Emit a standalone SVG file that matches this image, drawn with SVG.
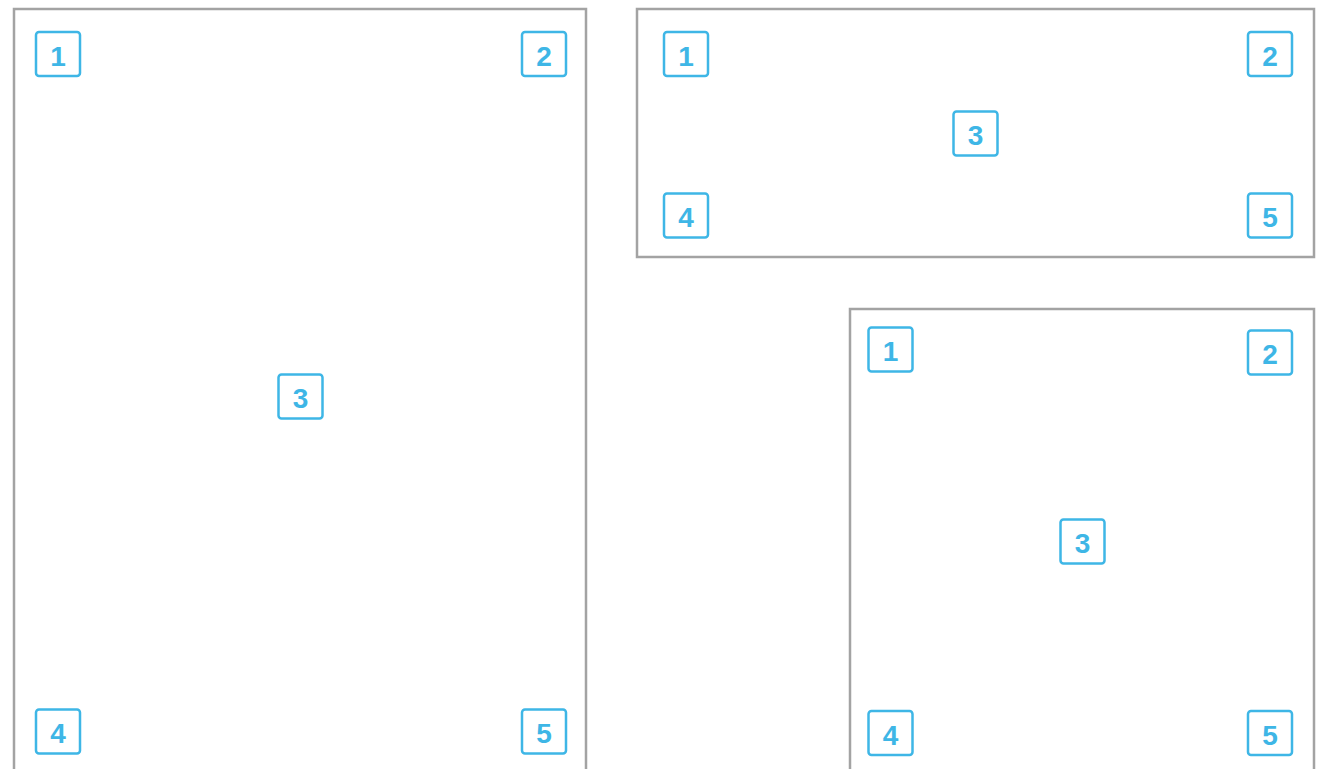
<svg xmlns="http://www.w3.org/2000/svg" width="1321" height="769" viewBox="0 0 1321 769">
<style>
.frame{fill:#fff;stroke:#a3a3a3;stroke-width:2.5}
.b rect{fill:#fff;stroke:#3eb6e6;stroke-width:2.5}
.b text{fill:#3eb6e6;font-family:"Liberation Sans",Arial,sans-serif;font-weight:bold;font-size:28px;text-anchor:middle;dominant-baseline:central}
</style>
<rect width="1321" height="769" fill="#fff"/>
<g id="frameA">
<rect class="frame" x="14" y="9" width="572" height="780"/>
<g class="b" id="a1"><rect x="36" y="32" width="44" height="44" rx="3"/><text x="58" y="56">1</text></g>
<g class="b" id="a2"><rect x="522" y="32" width="44" height="44" rx="3"/><text x="544" y="56">2</text></g>
<g class="b" id="a3"><rect x="278.5" y="374.5" width="44" height="44" rx="3"/><text x="300.5" y="398.5">3</text></g>
<g class="b" id="a4"><rect x="36" y="709.5" width="44" height="44" rx="3"/><text x="58" y="733.5">4</text></g>
<g class="b" id="a5"><rect x="522" y="709.5" width="44" height="44" rx="3"/><text x="544" y="733.5">5</text></g>
</g>
<g id="frameB">
<rect class="frame" x="637" y="9" width="677" height="248"/>
<g class="b" id="b1"><rect x="664" y="32" width="44" height="44" rx="3"/><text x="686" y="56">1</text></g>
<g class="b" id="b2"><rect x="1248" y="32" width="44" height="44" rx="3"/><text x="1270" y="56">2</text></g>
<g class="b" id="b3"><rect x="953.5" y="111.5" width="44" height="44" rx="3"/><text x="975.5" y="135.5">3</text></g>
<g class="b" id="b4"><rect x="664" y="193.5" width="44" height="44" rx="3"/><text x="686" y="217.5">4</text></g>
<g class="b" id="b5"><rect x="1248" y="193.5" width="44" height="44" rx="3"/><text x="1270" y="217.5">5</text></g>
</g>
<g id="frameC">
<rect class="frame" x="850" y="309" width="464" height="480"/>
<g class="b" id="c1"><rect x="868.5" y="327.5" width="44" height="44" rx="3"/><text x="890.5" y="351.5">1</text></g>
<g class="b" id="c2"><rect x="1248" y="330.5" width="44" height="44" rx="3"/><text x="1270" y="354.5">2</text></g>
<g class="b" id="c3"><rect x="1060.5" y="519.5" width="44" height="44" rx="3"/><text x="1082.5" y="543.5">3</text></g>
<g class="b" id="c4"><rect x="868.5" y="711" width="44" height="44" rx="3"/><text x="890.5" y="735">4</text></g>
<g class="b" id="c5"><rect x="1248" y="711" width="44" height="44" rx="3"/><text x="1270" y="735">5</text></g>
</g>
<g id="connectors"/>
</svg>
